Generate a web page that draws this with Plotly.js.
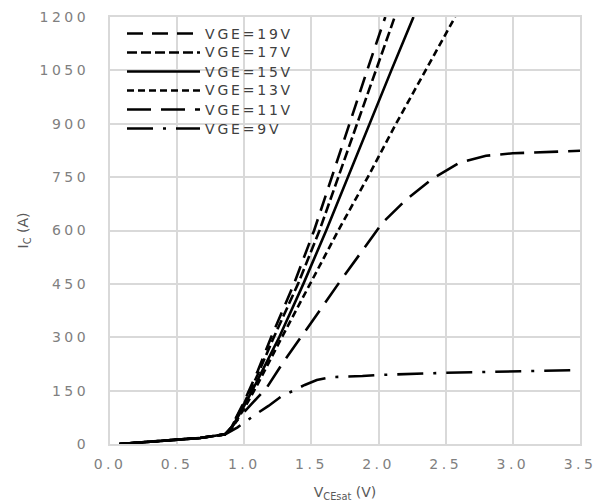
<!DOCTYPE html>
<html>
<head>
<meta charset="utf-8">
<script src="https://cdn.plot.ly/plotly-3.0.1.min.js"></script>
<style>
  html, body { margin: 0; padding: 0; background: #fff; }
  #chart { width: 596px; height: 504px; }
  .xtick text, .ytick text { letter-spacing: 3.5px; }
  .annotation-text { letter-spacing: 2.8px; }
</style>
</head>
<body>
<div id="chart"></div>
<script>
// Shared low-current section (all curves overlap here)
const vceLow = [0.07, 0.3, 0.5, 0.67, 0.856];
const icLow  = [0, 6, 11, 17, 27];

// VGE = 19 V
const vce19 = [0.9, 1.0, 1.1, 1.2, 1.37, 1.52, 1.65, 1.78, 1.915, 2.05];
const ic19  = [45, 120, 205, 300, 450, 600, 750, 900, 1050, 1200];
// VGE = 17 V
const vce17 = [0.9, 1.0, 1.1, 1.22, 1.40, 1.56, 1.70, 1.84, 1.98, 2.12];
const ic17  = [44, 115, 195, 300, 450, 600, 750, 900, 1050, 1200];
// VGE = 15 V
const vce15 = [0.9, 1.0, 1.1, 1.26, 1.44, 1.61, 1.77, 1.93, 2.095, 2.26];
const ic15  = [42, 108, 180, 300, 450, 600, 750, 900, 1050, 1200];
// VGE = 13 V
const vce13 = [0.9, 1.0, 1.1, 1.28, 1.49, 1.70, 1.92, 2.13, 2.35, 2.57];
const ic13  = [40, 100, 168, 300, 450, 600, 750, 900, 1050, 1200];
// VGE = 11 V
const vce11 = [0.9, 1.0, 1.17, 1.29, 1.44, 1.54, 1.7, 1.9, 2.03, 2.2, 2.4, 2.6, 2.8, 3.0, 3.25, 3.5];
const ic11  = [45, 90, 160, 230, 312, 363, 450, 556, 622, 685, 745, 790, 810, 817, 821, 824];
// VGE = 9 V
const vce9 = [0.95, 1.1, 1.18, 1.27, 1.45, 1.54, 1.65, 1.88, 2.0, 2.5, 3.0, 3.5];
const ic9  = [47, 87, 107, 132, 166, 180, 188, 191, 194, 200, 204, 208];

const seriesNames = ['VGE=19V', 'VGE=17V', 'VGE=15V', 'VGE=13V', 'VGE=11V', 'VGE=9V'];
const seriesX = [vce19, vce17, vce15, vce13, vce11, vce9];
const seriesY = [ic19, ic17, ic15, ic13, ic11, ic9];
const seriesDash = ['16px,9px', '10px,4px', 'solid', '7px,4px', '24px,10px', '26px,10px,3px,10px'];

const xTickVals = [0, 0.5, 1, 1.5, 2, 2.5, 3, 3.5];
const xTickText = ['0.0', '0.5', '1.0', '1.5', '2.0', '2.5', '3.0', '3.5'];
const yTickVals = [0, 150, 300, 450, 600, 750, 900, 1050, 1200];

const traces = seriesNames.map((name, i) => ({
  type: 'scatter',
  mode: 'lines',
  name: name,
  x: vceLow.concat(seriesX[i]),
  y: icLow.concat(seriesY[i]),
  line: { color: '#000000', width: 2.6, dash: seriesDash[i] },
  showlegend: false,
  hoverinfo: 'skip'
}));

// Hand-built legend (long line samples like the reference)
const L = 110, T = 17, W = 470, H = 427;
const shapes = [];
const annotations = [];
seriesNames.forEach((name, i) => {
  const ypx = 33.5 + i * 19;
  const yp = (T + H - ypx) / H;
  shapes.push({
    type: 'line', xref: 'paper', yref: 'paper',
    x0: (127 - L) / W, x1: (200 - L) / W, y0: yp, y1: yp,
    line: { color: '#000000', width: 2.6, dash: seriesDash[i] }
  });
  annotations.push({
    xref: 'paper', yref: 'paper', x: (203 - L) / W, y: yp,
    xanchor: 'left', yanchor: 'middle', showarrow: false,
    text: name,
    font: { family: 'DejaVu Sans', size: 14, color: '#404040' }
  });
});

const gridC = '#d9d9d9';
const layout = {
  width: 596, height: 504,
  margin: { l: L, r: 596 - L - W, t: T, b: 504 - T - H },
  paper_bgcolor: '#ffffff', plot_bgcolor: '#ffffff',
  font: { family: 'DejaVu Sans', size: 14, color: '#7f7f7f' },
  showlegend: false,
  xaxis: {
    range: [0, 3.5], tickvals: xTickVals, ticktext: xTickText,
    showgrid: true, gridcolor: gridC, gridwidth: 2,
    showline: true, linecolor: gridC, linewidth: 2, mirror: true,
    zeroline: false, ticks: '', ticklabelstandoff: 6,
    ticklabeloverflow: 'allow',
    tickfont: { family: 'DejaVu Sans', size: 14, color: '#808080' },
    title: { text: 'V<sub>CEsat</sub> (V)', standoff: 16,
             font: { family: 'DejaVu Sans', size: 14, color: '#595959' } }
  },
  yaxis: {
    range: [0, 1200], tickvals: yTickVals,
    showgrid: true, gridcolor: gridC, gridwidth: 2,
    showline: true, linecolor: gridC, linewidth: 2, mirror: true,
    zeroline: false, ticks: '', ticklabelstandoff: 16,
    ticklabeloverflow: 'allow',
    tickfont: { family: 'DejaVu Sans', size: 14, color: '#808080' },
    title: { text: 'I<sub>C</sub> (A)', standoff: 8,
             font: { family: 'DejaVu Sans', size: 14, color: '#595959' } }
  },
  shapes: shapes,
  annotations: annotations
};

Plotly.newPlot('chart', traces, layout, { displayModeBar: false, staticPlot: true });
</script>
</body>
</html>
